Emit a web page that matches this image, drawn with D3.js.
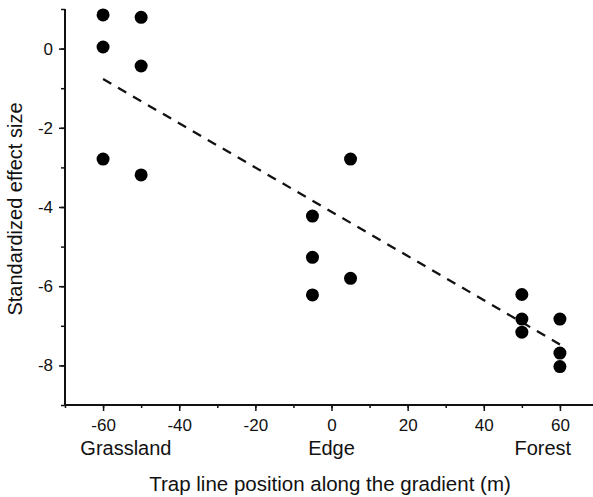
<!DOCTYPE html>
<html><head><meta charset="utf-8">
<script src="https://cdn.jsdelivr.net/npm/d3@7"></script>
<style>body{margin:0;background:#fff}svg{display:block}text{font-family:"Liberation Sans",Arial,sans-serif;fill:#111}</style>
</head><body>
<svg id="c" width="593" height="497"></svg>
<script>
const pointX = [-60,-60,-60,-50,-50,-50,-5,-5,-5,5,5,50,50,50,60,60,60];
const pointY = [0.85,0.04,-2.79,0.79,-0.44,-3.19,-4.23,-5.27,-6.22,-2.79,-5.80,-6.21,-6.83,-7.16,-6.83,-7.69,-8.03];
const fitX = [-60, 60];
const fitY = [-0.77, -7.47];
const xTicks = [-60,-40,-20,0,20,40,60];
const yTicks = [0,-2,-4,-6,-8];
const zoneLabels = ["Grassland","Edge","Forest"];
const zoneX = [-54,0,55.5];

const svg = d3.select("#c");
const x = d3.scaleLinear().domain([-70,70]).range([65,598]);
const y = d3.scaleLinear().domain([-9,1]).range([405,9]);
const fmt = d => String(d);

// axes
const gx = svg.append("g").attr("transform","translate(0,405)");
gx.call(d3.axisBottom(x).tickValues(d3.range(-70,71,10)).tickSize(3).tickFormat(""));
gx.call(g=>g.selectAll(".tick line").attr("stroke","#111").attr("stroke-width",1.5));
const gx2 = svg.append("g").attr("transform","translate(0,405)");
gx2.call(d3.axisBottom(x).tickValues(xTicks).tickSize(6).tickPadding(8).tickFormat(fmt));
gx2.select(".domain").remove();
gx2.selectAll(".tick line").attr("stroke","#111").attr("stroke-width",1.5);
gx2.selectAll(".tick text").attr("font-size",17).attr("fill","#111").style("font-family","Liberation Sans, Arial, sans-serif");
gx.select(".domain").attr("stroke","#111").attr("stroke-width",2).attr("d","M65,0H598");

const gy = svg.append("g").attr("transform","translate(65,0)");
gy.call(d3.axisLeft(y).tickValues(d3.range(-9,1.1,1)).tickSize(4).tickFormat(""));
gy.selectAll(".tick line").attr("stroke","#111").attr("stroke-width",1.5);
gy.select(".domain").attr("stroke","#111").attr("stroke-width",2).attr("d","M0,9V405");
const gy2 = svg.append("g").attr("transform","translate(65,0)");
gy2.call(d3.axisLeft(y).tickValues(yTicks).tickSize(6).tickPadding(6).tickFormat(fmt));
gy2.select(".domain").remove();
gy2.selectAll(".tick line").attr("stroke","#111").attr("stroke-width",1.5);
gy2.selectAll(".tick text").attr("font-size",17).attr("fill","#111").style("font-family","Liberation Sans, Arial, sans-serif");

// zone labels
svg.selectAll(".zone").data(zoneLabels).enter().append("text")
  .attr("x",(d,i)=>x(zoneX[i])).attr("y",455).attr("text-anchor","middle")
  .attr("font-size",20).text(d=>d);

// titles
svg.append("text").attr("x",330).attr("y",491).attr("text-anchor","middle").attr("font-size",20.5)
  .text("Trap line position along the gradient (m)");
svg.append("text").attr("transform","translate(22,209) rotate(-90)").attr("text-anchor","middle").attr("font-size",20)
  .text("Standardized effect size");

// fit line
svg.append("path").datum(fitX.map((d,i)=>[d,fitY[i]]))
  .attr("d",d3.line().x(d=>x(d[0])).y(d=>y(d[1])))
  .attr("fill","none").attr("stroke","#111").attr("stroke-width",2.3).attr("stroke-dasharray","9.5,7.8");

// points
svg.selectAll(".pt").data(pointX.map((d,i)=>[d,pointY[i]])).enter().append("circle")
  .attr("cx",d=>x(d[0])).attr("cy",d=>y(d[1])).attr("r",6.5).attr("fill","#000");
</script>
</body></html>
